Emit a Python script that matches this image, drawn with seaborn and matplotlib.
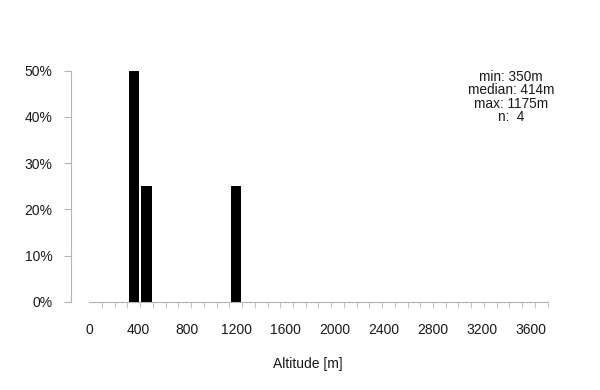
import numpy as np
import pandas as pd
import seaborn as sns
import matplotlib.pyplot as plt
from matplotlib.ticker import FixedLocator, FuncFormatter

# altitudes of the sites (m)
altitudes = [350, 380, 448, 1175]
bin_edges = np.arange(0, 3700, 100)
x_ticks = np.arange(0, 3700, 400)
y_ticks = [0, 10, 20, 30, 40, 50]

df = pd.DataFrame({"altitude": altitudes})

sns.set_style("white")
plt.rcParams['font.family'] = ['Liberation Sans', 'DejaVu Sans']

fig = plt.figure(figsize=(6, 3.9), dpi=100)
ax = fig.add_axes([70.7 / 600, (390 - 301.7) / 390, 496 / 600, 255 / 390])

sns.histplot(data=df, x="altitude", bins=bin_edges, stat="percent", shrink=0.8,
             color="black", edgecolor="none", alpha=1, ax=ax)

ax.set_xlim(-146, 3750)
ax.set_ylim(0, 55.2)

axis_col = "#b4b4b4"
txt_col = "#1a1a1a"
for s in ["top", "right"]:
    ax.spines[s].set_visible(False)
for s in ["left", "bottom"]:
    ax.spines[s].set_color(axis_col)
    ax.spines[s].set_linewidth(0.8)
ax.spines["left"].set_bounds(0, 50)
ax.spines["bottom"].set_bounds(0, 3600)

# y axis
ax.yaxis.set_major_locator(FixedLocator(y_ticks))
ax.yaxis.set_major_formatter(FuncFormatter(lambda v, p: "%d%%" % v))
ax.tick_params(axis="y", length=5, width=0.8, color=axis_col, pad=8,
               labelsize=10, labelcolor=txt_col, left=True)

# x axis: minor ticks every 100, labels slightly compressed like the original
ax.xaxis.set_minor_locator(FixedLocator(bin_edges))
ax.xaxis.set_major_locator(FixedLocator(x_ticks * 0.964))
ax.xaxis.set_major_formatter(FuncFormatter(lambda v, p: "%d" % round(v / 0.964)))
ax.tick_params(axis="x", which="minor", length=4, width=0.7, color="#c4c4c4", bottom=True)
ax.tick_params(axis="x", which="major", length=0, pad=15, labelsize=10, labelcolor=txt_col)

ax.set_ylabel("")
ax.set_xlabel("Altitude [m]", fontsize=10, color=txt_col)
ax.xaxis.set_label_coords((308 - 70.7) / 496, -0.215)

n = len(altitudes)
stats = "min: %dm\nmedian: %dm\nmax: %dm\nn:  %d" % (
    min(altitudes), np.median(altitudes), max(altitudes), n)
ax.text((511 - 70.7) / 496, (301.7 - 70) / 255, stats, transform=ax.transAxes,
        ha="center", va="top", fontsize=9.8, linespacing=0.95, color=txt_col)

fig.savefig("out.png", dpi=100)
